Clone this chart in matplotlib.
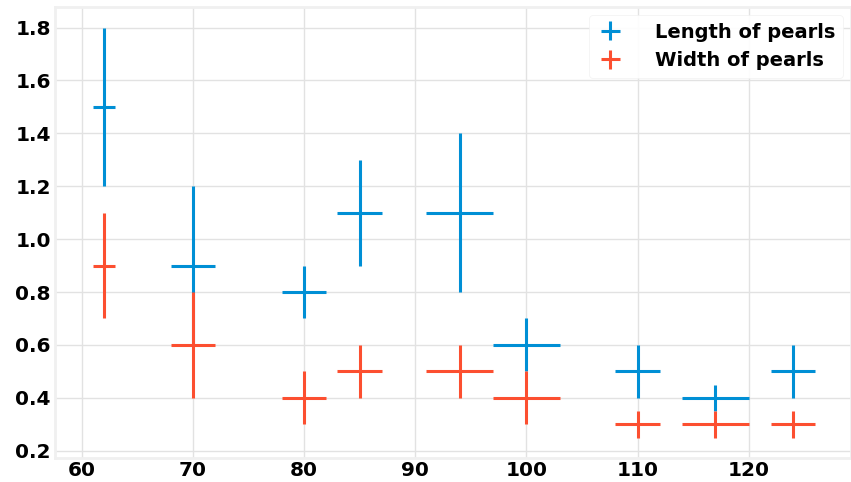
import matplotlib
matplotlib.use('Agg')
from matplotlib import pyplot as plt

# pearl measurements
x = [62, 70, 80, 85, 94, 100, 110, 117, 124]
x_err = [1, 2, 2, 2, 3, 3, 2, 3, 2]

length = [1.5, 0.9, 0.8, 1.1, 1.1, 0.6, 0.5, 0.4, 0.5]
length_err = [0.3, 0.3, 0.1, 0.2, 0.3, 0.1, 0.1, 0.05, 0.1]

width = [0.9, 0.6, 0.4, 0.5, 0.5, 0.4, 0.3, 0.3, 0.3]
width_err = [0.2, 0.2, 0.1, 0.1, 0.1, 0.1, 0.05, 0.05, 0.05]

plt.style.use('fivethirtyeight')
plt.rcParams['font.family'] = ['DejaVu Sans']

fig = plt.figure(figsize=(8.51, 4.82), dpi=100, facecolor='white')
ax = fig.add_axes([55/851, 1 - 458/482, (851 - 55)/851, (458 - 7)/482])
ax.set_facecolor('white')

ax.errorbar(x, length, xerr=x_err, yerr=length_err, fmt='none',
            ecolor='#008fd5', elinewidth=2.2, label='Length of pearls')
ax.errorbar(x, width, xerr=x_err, yerr=width_err, fmt='none',
            ecolor='#fc4f30', elinewidth=2.2, label='Width of pearls')

ax.set_xlim(57.6, 129.2)
ax.set_ylim(0.1725, 1.8775)
ax.set_xticks([60, 70, 80, 90, 100, 110, 120])
ax.set_yticks([0.2, 0.4, 0.6, 0.8, 1.0, 1.2, 1.4, 1.6, 1.8])
ax.set_yticklabels(['0.2', '0.4', '0.6', '0.8', '1.0', '1.2', '1.4', '1.6', '1.8'])
ax.grid(True, color='#e2e2e2', linewidth=1.0)
ax.tick_params(length=0, labelsize=14.5)
ax.tick_params(axis='x', pad=2)
ax.tick_params(axis='y', pad=3)
for lab in ax.get_xticklabels() + ax.get_yticklabels():
    lab.set_fontweight('bold')
for s in ax.spines.values():
    s.set_visible(True)
    s.set_color('#f0f0f0')
    s.set_linewidth(2)

leg = ax.legend(loc='upper right', prop={'weight': 'bold', 'size': 14},
                frameon=True, facecolor='white', edgecolor='#f0f0f0',
                framealpha=0.9, borderaxespad=0.4, handlelength=1.4,
                handletextpad=1.6)
for h in leg.legend_handles:
    for c in h.get_children():
        c.set_linewidth(1.6)

fig.savefig('out.png', dpi=100, facecolor='white')
